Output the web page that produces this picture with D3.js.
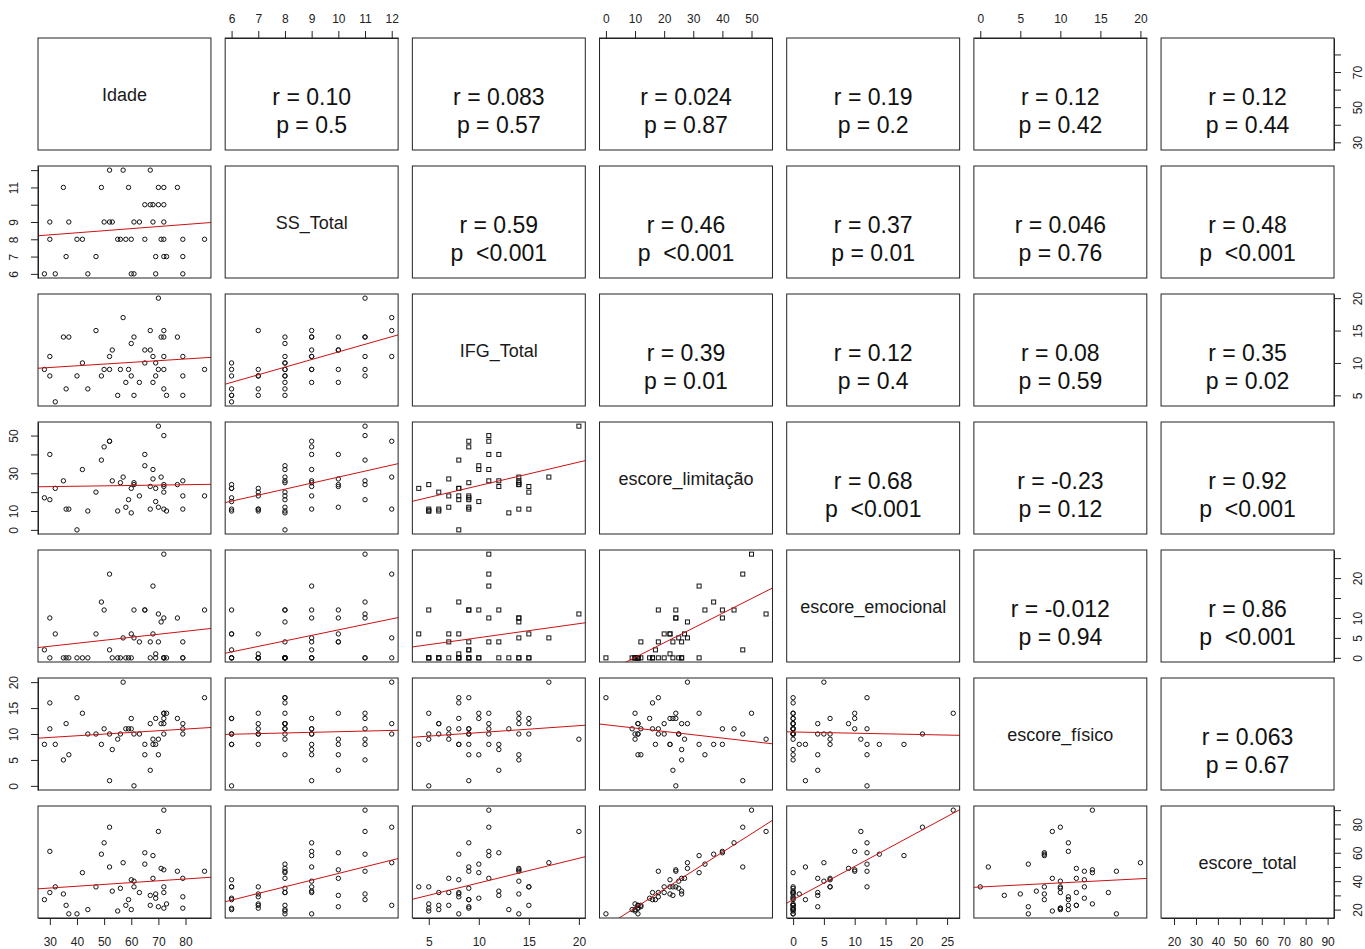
<!DOCTYPE html>
<html>
<head>
<meta charset="utf-8">
<script src="https://cdn.jsdelivr.net/npm/d3@7"></script>
<style>
  body { margin: 0; background: #fff; }
  text { font-family: Arial, "Liberation Sans", sans-serif; }
</style>
</head>
<body>
<svg id="chart" width="1365" height="949"></svg>
<script>
// variables in the order of the matrix
const varNames = ["Idade", "SS_Total", "IFG_Total", "escore_limitação", "escore_emocional", "escore_físico", "escore_total"];

// one value per subject (48)
const idade  = [28,30,30,32,35,36,37,40,42,44,47,49,50,52,52,53,55,56,57,58,59,60,60,61,61,63,65,65,67,67,68,68,69,69,70,70,71,72,72,72,72,72,73,77,79,79,79,87];
const ssTotal = [6,9,8,6,11,7,9,8,8,6,7,11,9,9,12,9,8,8,12,8,11,8,6,9,6,9,10,8,10,12,9,10,7,6,10,11,8,11,10,9,8,7,7,11,8,7,6,8];
const ifgTotal = [9,11,8,4,14,6,14,8,10,6,15,8,9,9,11,12,5,9,17,7,9,13,8,14,5,7,12,10,12,15,11,7,8,10,9,20,14,11,14,15,6,9,5,14,11,8,5,9];
const limitacao = [17,40,16,22,26,11,11,0,32,10,20,37,44,47,47,26,10,25,28,12,16,9,22,25,24,18,40,34,23,11,32,27,22,15,12,55,28,50,24,23,20,11,10,24,26,18,11,18];
const emocional = [2,10,0,6,0,0,0,0,0,0,6,14,12,2,21,0,0,0,5,0,0,0,6,5,12,4,12,12,4,0,18,6,1,0,4,11,9,26,10,0,0,0,0,10,4,0,0,12];
const fisico = [8,11,16,8,5,12,6,17,14,10,10,8,11,1,10,7,9,10,20,11,11,11,13,10,0,10,8,6,3,12,8,9,8,13,6,9,12,14,14,13,12,10,14,13,12,11,10,17];
const escoreTotal = [27,61,32,36,31,23,17,17,46,20,36,59,67,50,78,33,19,35,53,23,27,20,41,40,36,32,60,52,30,23,58,42,31,28,22,75,49,90,48,36,32,21,24,47,42,29,21,47];

const columns = [idade, ssTotal, ifgTotal, limitacao, emocional, fisico, escoreTotal];

// axis ticks and the labels R actually printed
const ticks = [
  [30,40,50,60,70,80],
  [6,7,8,9,10,11,12],
  [5,10,15,20],
  [0,10,20,30,40,50],
  [0,5,10,15,20,25],
  [0,5,10,15,20],
  [20,30,40,50,60,70,80,90]
];
const sideLabels = [
  [30,50,70],
  [6,7,8,9,11],
  [5,10,15,20],
  [0,10,30,50],
  [0,5,10,20],
  [0,5,10,15,20],
  [20,40,60,80]
];

// upper panels: r and p, row by row
const rValues = [
  ["0.10","0.083","0.024","0.19","0.12","0.12"],
  ["0.59","0.46","0.37","0.046","0.48"],
  ["0.39","0.12","0.08","0.35"],
  ["0.68","-0.23","0.92"],
  ["-0.012","0.86"],
  ["0.063"]
];
const pValues = [
  ["0.5","0.57","0.87","0.2","0.42","0.44"],
  ["<0.001","<0.001","0.01","0.76","<0.001"],
  ["0.01","0.4","0.59","0.02"],
  ["<0.001","0.12","<0.001"],
  ["0.94","<0.001"],
  ["0.67"]
];

// panels (row, col) that came out with square symbols in the original
const squarePanels = ["3-2", "4-2", "4-3"];

const svg = d3.select("#chart");
const n = varNames.length;
const idx = d3.range(n);

const colBand = d3.scaleBand().domain(idx).range([38, 1334]).paddingInner(0.076).paddingOuter(0);
const rowBand = d3.scaleBand().domain(idx).range([38, 918]).paddingInner(0.125).paddingOuter(0);
const bw = colBand.bandwidth(), bh = rowBand.bandwidth();

function extendRange(vals) {
  let [lo, hi] = d3.extent(vals);
  let pad = (hi - lo) * 0.04;
  return [lo - pad, hi + pad];
}
const domains = columns.map(extendRange);

function xScale(j) {
  return d3.scaleLinear().domain(domains[j]).range([colBand(j), colBand(j) + bw]);
}
function yScale(i) {
  return d3.scaleLinear().domain(domains[i]).range([rowBand(i) + bh, rowBand(i)]);
}

const defs = svg.append("defs");

idx.forEach(i => {
  idx.forEach(j => {
    let x0 = colBand(j), y0 = rowBand(i);
    let g = svg.append("g");

    if (i === j) {
      g.append("text")
        .attr("x", x0 + bw / 2)
        .attr("y", y0 + bh / 2 + 1)
        .attr("dy", "0.35em")
        .attr("text-anchor", "middle")
        .style("font-size", "18px")
        .style("fill", "#1a1a1a")
        .text(varNames[i]);
    } else if (i < j) {
      let r = rValues[i][j - i - 1];
      let p = pValues[i][j - i - 1];
      g.append("text")
        .attr("x", x0 + bw / 2)
        .attr("y", y0 + bh / 2 + 3)
        .attr("dy", "0.35em")
        .attr("text-anchor", "middle")
        .style("font-size", "23px")
        .style("fill", "#111")
        .text("r = " + r);
      g.append("text")
        .attr("x", x0 + bw / 2)
        .attr("y", y0 + bh / 2 + 31)
        .attr("dy", "0.35em")
        .attr("text-anchor", "middle")
        .style("font-size", "23px")
        .style("fill", "#111")
        .style("white-space", "pre")
        .text(p.startsWith("<") ? "p  " + p : "p = " + p);
    } else {
      let xs = xScale(j), ys = yScale(i);
      let clipId = `clip-${i}-${j}`;
      defs.append("clipPath").attr("id", clipId)
        .append("rect").attr("x", x0).attr("y", y0).attr("width", bw).attr("height", bh);

      let xv = columns[j], yv = columns[i];
      let pts = xv.map((d, k) => [d, yv[k]]);
      let square = squarePanels.includes(`${i}-${j}`);

      if (square) {
        g.selectAll("rect.pt")
          .data(pts)
          .enter()
          .append("rect")
          .attr("class", "pt")
          .attr("x", d => xs(d[0]) - 2)
          .attr("y", d => ys(d[1]) - 2)
          .attr("width", 4)
          .attr("height", 4)
          .style("fill", "none")
          .style("stroke", "#111")
          .style("stroke-width", 1);
      } else {
        g.selectAll("circle")
          .data(pts)
          .enter()
          .append("circle")
          .attr("cx", d => xs(d[0]))
          .attr("cy", d => ys(d[1]))
          .attr("r", 2.2)
          .style("fill", "none")
          .style("stroke", "#111")
          .style("stroke-width", 1);
      }

      // least squares line, y (row variable) on x (column variable)
      let mx = d3.mean(xv), my = d3.mean(yv);
      let sxy = d3.sum(xv, (d, k) => (d - mx) * (yv[k] - my));
      let sxx = d3.sum(xv, d => (d - mx) * (d - mx));
      let slope = sxy / sxx, icpt = my - slope * mx;
      let [a, b] = domains[j];
      g.append("line")
        .attr("clip-path", `url(#${clipId})`)
        .attr("x1", xs(a)).attr("y1", ys(icpt + slope * a))
        .attr("x2", xs(b)).attr("y2", ys(icpt + slope * b))
        .style("stroke", "#cc1111")
        .style("stroke-width", 1);
    }

    g.append("rect")
      .attr("x", x0).attr("y", y0)
      .attr("width", bw).attr("height", bh)
      .style("fill", "none")
      .style("stroke", "#222")
      .style("stroke-width", 1);
  });
});

// outer axes, alternating like R pairs()
function styleAxis(g) {
  g.select(".domain").style("stroke", "#222");
  g.selectAll(".tick line").style("stroke", "#222");
  g.selectAll(".tick text").style("font-size", "12px").style("fill", "#222");
}

idx.forEach(j => {
  let xs = xScale(j);
  let top = j % 2 === 1;
  let axis = (top ? d3.axisTop(xs) : d3.axisBottom(xs))
    .tickValues(ticks[j]).tickSize(7).tickSizeOuter(0)
    .tickFormat(d => d);
  let g = svg.append("g")
    .attr("transform", `translate(0,${top ? 38 : rowBand(n - 1) + bh})`)
    .call(axis);
  g.selectAll(".tick text").attr("y", top ? -19 : 24).attr("dy", "0.35em");
  styleAxis(g);
});

idx.forEach(i => {
  let ys = yScale(i);
  let left = i % 2 === 1;
  let axis = (left ? d3.axisLeft(ys) : d3.axisRight(ys))
    .tickValues(ticks[i]).tickSize(7).tickSizeOuter(0)
    .tickFormat(d => sideLabels[i].includes(d) ? d : "");
  let g = svg.append("g")
    .attr("transform", `translate(${left ? 38 : colBand(n - 1) + bw},0)`)
    .call(axis);
  g.selectAll(".tick text")
    .attr("transform", "rotate(-90)")
    .attr("x", 0)
    .attr("y", left ? -24 : 24)
    .attr("dy", "0.35em")
    .attr("text-anchor", "middle");
  styleAxis(g);
});
</script>
</body>
</html>
